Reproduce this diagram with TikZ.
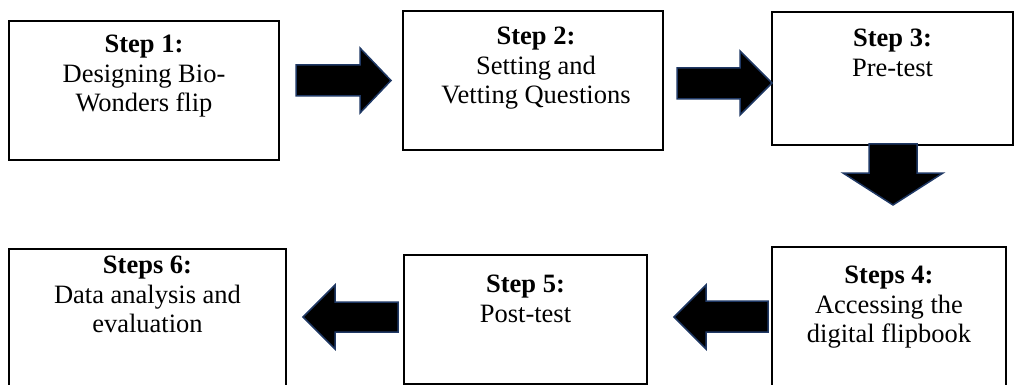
\documentclass[tikz,border=0pt]{standalone}
\usepackage{fontspec}
\setmainfont{Liberation Serif}
\usetikzlibrary{positioning}
\definecolor{arrowrim}{HTML}{1F3864}
\tikzset{
  stepbox/.style={draw, line width=1.4pt, inner sep=0pt, outer sep=0pt},
  steptext/.style={font=\fontsize{26.5}{29.5}\selectfont, align=center, inner sep=0pt, anchor=north},
  blockarrow/.style={draw=arrowrim, fill=black, line width=1.5pt, line join=miter}
}
\begin{document}
\begin{tikzpicture}[x=1pt, y=-1pt]
    \useasboundingbox (0,0) rectangle (1017,385);
    % top row
    \node[stepbox, minimum width=270pt, minimum height=139pt] (s1) at (144,90.5) {};
    \node[stepbox, minimum width=260pt, minimum height=139pt] (s2) at (533,80.5) {};
    \node[stepbox, minimum width=241pt, minimum height=133pt] (s3) at (892.5,78.5) {};
    % bottom row
    \node[stepbox, minimum width=234pt, minimum height=145pt] (s4) at (889,319.5) {};
    \node[stepbox, minimum width=243pt, minimum height=129pt] (s5) at (525.5,319.5) {};
    \node[stepbox, minimum width=277pt, minimum height=143pt] (s6) at (147.5,320.5) {};
    \node[steptext, below=14pt of s1.north] (t1) {\textbf{Step 1:}\\Designing Bio-\\Wonders flip};
    \node[steptext, below=16pt of s2.north, xshift=3pt] (t2) {\textbf{Step 2:}\\Setting and\\Vetting Questions};
    \node[steptext, below=17pt of s3.north] (t3) {\textbf{Step 3:}\\Pre-test};
    \node[steptext, below=19pt of s4.north] (t4) {\textbf{Steps 4:}\\Accessing the\\digital flipbook};
    \node[steptext, below=20pt of s5.north] (t5) {\textbf{Step 5:}\\Post-test};
    \node[steptext, below=7pt of s6.north] (t6) {\textbf{Steps 6:}\\Data analysis and\\evaluation};
    % block arrows
    \draw[blockarrow] (296,65) -- (360,65) -- (360,48) -- (391,80.5) -- (360,113) -- (360,96) -- (296,96) -- cycle;
    \draw[blockarrow] (677,68) -- (740,68) -- (740,51) -- (772,83) -- (740,115) -- (740,99) -- (677,99) -- cycle;
    \draw[blockarrow] (869,144) -- (917,144) -- (917,173) -- (943,173) -- (893,205) -- (843,173) -- (869,173) -- cycle;
    \draw[blockarrow] (768,301) -- (706,301) -- (706,285) -- (674,317) -- (706,349) -- (706,332) -- (768,332) -- cycle;
    \draw[blockarrow] (398,302) -- (335,302) -- (335,285) -- (303,317) -- (335,349) -- (335,332) -- (398,332) -- cycle;
\end{tikzpicture}
\end{document}
